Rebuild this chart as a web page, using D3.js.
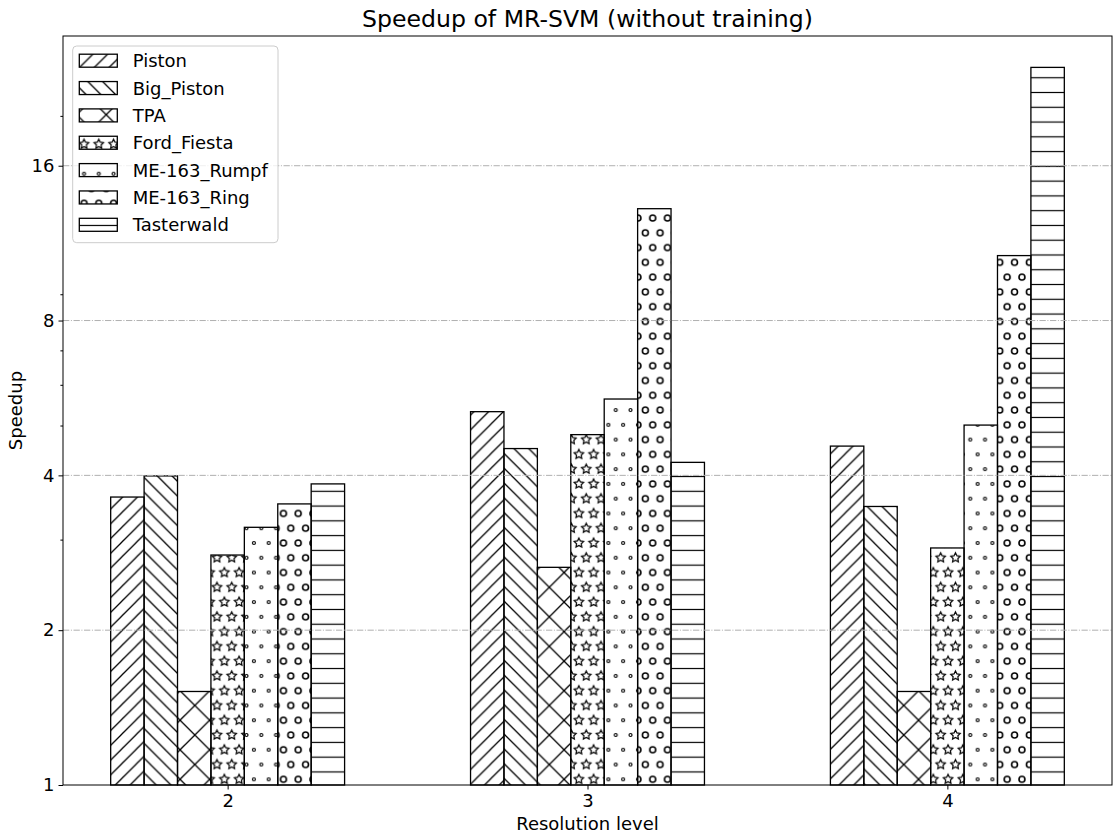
<!DOCTYPE html>
<html>
<head>
<meta charset="utf-8">
<script src="https://cdn.jsdelivr.net/npm/d3@7"></script>
<style>
  body { margin: 0; background: #fff; }
  svg { display: block; }
  text { font-family: "DejaVu Sans", sans-serif; fill: #000; }
</style>
</head>
<body>
<div id="chart"></div>
<script>
// data (speedup, log2 axis)
const levels = [2, 3, 4];
const seriesNames = ['Piston', 'Big_Piston', 'TPA', 'Ford_Fiesta', 'ME-163_Rumpf', 'ME-163_Ring', 'Tasterwald'];
const hatchKinds = ['ne2', 'se2', 'cross', 'star', 'dot', 'circle', 'hline'];

const piston = [3.63, 5.32, 4.56];
const bigPiston = [3.99, 4.51, 3.48];
const tpa = [1.52, 2.65, 1.52];
const fordFiesta = [2.80, 4.80, 2.89];
const meRumpf = [3.17, 5.63, 5.01];
const meRing = [3.52, 13.2, 10.7];
const tasterwald = [3.85, 4.24, 24.85];

const yTicks = [1, 2, 4, 8, 16];
const yMinorTicks = [3, 5, 6, 7, 9, 20];
const gridTicks = [2, 4, 8, 16];

const allSeries = [piston, bigPiston, tpa, fordFiesta, meRumpf, meRing, tasterwald];

const W = 1113, H = 839;
const margin = { left: 63, right: 1112, top: 36, bottom: 785 };
const barWidth = 0.65 / seriesNames.length;

const svg = d3.select('#chart').append('svg')
  .attr('width', W)
  .attr('height', H);

const x = d3.scaleLinear()
  .domain([1.5425, 4.4575])
  .range([margin.left, margin.right]);

const y = d3.scaleLog().base(2)
  .domain([1, 28.6])
  .range([margin.bottom, margin.top]);

// ---- hatch patterns (period) ----
const P = 14.77, OX = 2.82, OY = 11.28;
const defs = svg.append('defs');

function addPattern(id, w, h) {
  return defs.append('pattern')
    .attr('id', id)
    .attr('patternUnits', 'userSpaceOnUse')
    .attr('x', OX).attr('y', OY)
    .attr('width', w).attr('height', h);
}

function starPath(cx, cy, r) {
  const pts = [];
  for (let k = 0; k < 10; k++) {
    const rr = k % 2 === 0 ? r : r * 0.5;
    const a = -Math.PI / 2 + k * Math.PI / 5;
    pts.push([cx + rr * Math.cos(a), cy + rr * Math.sin(a)]);
  }
  return 'M' + pts.map(p => p.join(',')).join('L') + 'Z';
}

function applyStroke(sel, w = 1.3) {
  return sel.attr('stroke', '#000').attr('stroke-width', w).attr('fill', 'none');
}

// '//'
applyStroke(addPattern('h-ne2', P, P).append('path')
  .attr('d', `M0,${P}L${P},0M${-P / 2},${P / 2}L${P / 2},${-P / 2}M${P / 2},${1.5 * P}L${1.5 * P},${P / 2}`));
// '\\'
applyStroke(addPattern('h-se2', P, P).append('path')
  .attr('d', `M0,0L${P},${P}M${-P / 2},${P / 2}L${P / 2},${1.5 * P}M${P / 2},${-P / 2}L${1.5 * P},${P / 2}`));
// 'x'
{
  const Q = 2 * P;
  applyStroke(addPattern('h-cross', Q, Q).append('path')
    .attr('d', `M0,${Q}L${Q},0M${-Q / 2},${Q / 2}L${Q / 2},${-Q / 2}M${Q / 2},${1.5 * Q}L${1.5 * Q},${Q / 2}` +
               `M0,0L${Q},${Q}M${-Q / 2},${Q / 2}L${Q / 2},${1.5 * Q}M${Q / 2},${-Q / 2}L${1.5 * Q},${Q / 2}`));
}
// '-'
applyStroke(addPattern('h-hline', P, P).append('path')
  .attr('d', `M-1,${P / 2}L${P + 1},${P / 2}`), 1.2);

// staggered shapes: '*', '.', 'o'
const shapeSpots = [[0, 0], [P, 0], [0, 2 * P], [P, 2 * P], [P / 2, P]];
{
  const g = addPattern('h-star', P, 2 * P);
  shapeSpots.forEach(([cx, cy]) => applyStroke(g.append('path').attr('d', starPath(cx, cy, P / 3)), 1.2));
}
{
  const g = addPattern('h-dot', P, 2 * P);
  shapeSpots.forEach(([cx, cy]) => applyStroke(g.append('circle').attr('cx', cx).attr('cy', cy).attr('r', P * 0.1), 1.2));
}
{
  const g = addPattern('h-circle', P, 2 * P);
  shapeSpots.forEach(([cx, cy]) => applyStroke(g.append('circle').attr('cx', cx).attr('cy', cy).attr('r', P * 0.2), 1.6));
}

// ---- bars ----
const barData = [];
allSeries.forEach((vals, si) => {
  vals.forEach((v, li) => {
    barData.push({ series: si, level: levels[li], value: v });
  });
});

const bars = svg.append('g').attr('class', 'bars');
const barX = d => x(d.level + (d.series - 3) * barWidth - barWidth / 2);
const barW = x(barWidth) - x(0);

bars.selectAll('rect.bg')
  .data(barData)
  .join('rect')
  .attr('class', 'bg')
  .attr('x', barX)
  .attr('y', d => y(d.value))
  .attr('width', barW)
  .attr('height', d => y(1) - y(d.value))
  .attr('fill', '#fff');

bars.selectAll('rect.hatch')
  .data(barData)
  .join('rect')
  .attr('class', 'hatch')
  .attr('x', barX)
  .attr('y', d => y(d.value))
  .attr('width', barW)
  .attr('height', d => y(1) - y(d.value))
  .attr('fill', d => `url(#h-${hatchKinds[d.series]})`)
  .attr('stroke', '#000')
  .attr('stroke-width', 1.3);

// ---- grid (drawn over the bars, like the reference) ----
svg.append('g').attr('class', 'grid')
  .selectAll('line')
  .data(gridTicks)
  .join('line')
  .attr('x1', margin.left).attr('x2', margin.right)
  .attr('y1', d => y(d)).attr('y2', d => y(d))
  .attr('stroke', '#b0b0b0')
  .attr('stroke-width', 1)
  .attr('stroke-dasharray', '6.3,1.6,1,1.6');

// ---- axes ----
const yAxis = d3.axisLeft(y)
  .tickValues(yTicks)
  .tickFormat(d3.format('d'))
  .tickSize(4.5)
  .tickPadding(4);

const yAxisG = svg.append('g')
  .attr('transform', `translate(${margin.left},0)`)
  .call(yAxis);

const yMinor = d3.axisLeft(y)
  .tickValues(yMinorTicks)
  .tickFormat('')
  .tickSize(2.6);

const yMinorG = svg.append('g')
  .attr('transform', `translate(${margin.left},0)`)
  .call(yMinor);

const xAxis = d3.axisBottom(x)
  .tickValues(levels)
  .tickFormat(d3.format('d'))
  .tickSize(4.5)
  .tickPadding(5);

const xAxisG = svg.append('g')
  .attr('transform', `translate(0,${margin.bottom})`)
  .call(xAxis);

[yAxisG, yMinorG, xAxisG].forEach(g => {
  g.select('.domain').remove();
  g.selectAll('.tick line').attr('stroke', '#000').attr('stroke-width', 1);
  g.selectAll('.tick text')
    .style('font-family', '"DejaVu Sans", sans-serif')
    .style('font-size', '18px')
    .attr('fill', '#000');
});

// frame
svg.append('rect')
  .attr('x', margin.left).attr('y', margin.top)
  .attr('width', margin.right - margin.left)
  .attr('height', margin.bottom - margin.top)
  .attr('fill', 'none')
  .attr('stroke', '#000')
  .attr('stroke-width', 1);

// labels
svg.append('text')
  .attr('x', (margin.left + margin.right) / 2)
  .attr('y', 27)
  .attr('text-anchor', 'middle')
  .style('font-size', '23.6px')
  .text('Speedup of MR-SVM (without training)');

svg.append('text')
  .attr('x', (margin.left + margin.right) / 2)
  .attr('y', 830)
  .attr('text-anchor', 'middle')
  .style('font-size', '18px')
  .text('Resolution level');

svg.append('text')
  .attr('transform', `translate(22,${(margin.top + margin.bottom) / 2}) rotate(-90)`)
  .attr('text-anchor', 'middle')
  .style('font-size', '18px')
  .text('Speedup');

// ---- legend ----
const legend = svg.append('g').attr('class', 'legend');
legend.append('rect')
  .attr('x', 72.7).attr('y', 46)
  .attr('width', 205.3).attr('height', 196.7)
  .attr('rx', 4).attr('ry', 4)
  .attr('fill', '#fff').attr('fill-opacity', 0.8)
  .attr('stroke', '#cccccc').attr('stroke-width', 1);

const rowY = i => 60.7 + i * 27.35;

const items = legend.selectAll('g.item')
  .data(seriesNames)
  .join('g')
  .attr('class', 'item');

items.append('rect')
  .attr('x', 79.3).attr('y', (d, i) => rowY(i) - 6.5)
  .attr('width', 38).attr('height', 13)
  .attr('fill', '#fff');

items.append('rect')
  .attr('x', 79.3).attr('y', (d, i) => rowY(i) - 6.5)
  .attr('width', 38).attr('height', 13)
  .attr('fill', (d, i) => `url(#h-${hatchKinds[i]})`)
  .attr('stroke', '#000').attr('stroke-width', 1.3);

items.append('text')
  .attr('x', 132.7)
  .attr('y', (d, i) => rowY(i) + 6.5)
  .style('font-size', '18px')
  .text(d => d);
</script>
</body>
</html>
